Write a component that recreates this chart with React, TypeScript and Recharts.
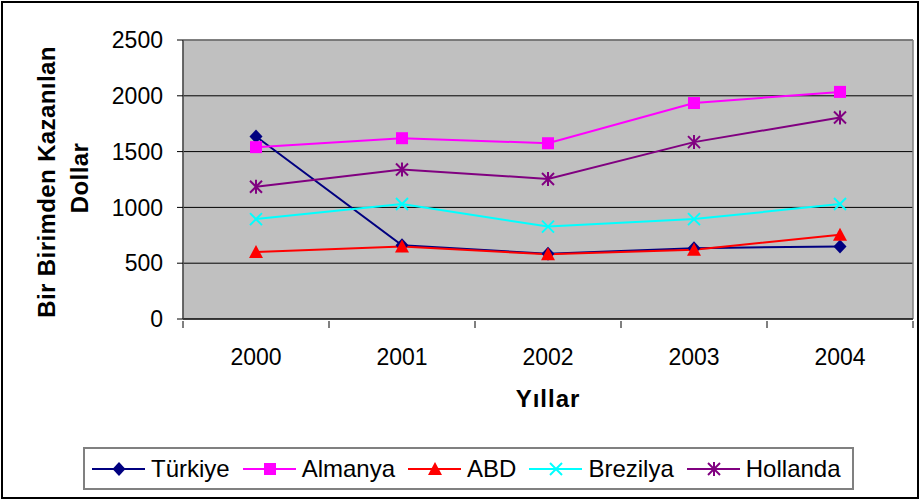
import { LineChart, Line, XAxis, YAxis, CartesianGrid } from "recharts";

const years = ["2000", "2001", "2002", "2003", "2004"];
const turkiye = [1635, 660, 585, 635, 650];
const almanya = [1540, 1620, 1575, 1935, 2035];
const abd = [600, 650, 580, 620, 755];
const brezilya = [895, 1030, 828, 895, 1030];
const hollanda = [1185, 1340, 1255, 1585, 1805];
const yTicks = [0, 500, 1000, 1500, 2000, 2500];

const data = years.map((year, i) => ({
  year,
  turkiye: turkiye[i],
  almanya: almanya[i],
  abd: abd[i],
  brezilya: brezilya[i],
  hollanda: hollanda[i],
}));

const font = "'Liberation Sans', Arial, sans-serif";

// marker shapes, Excel style
function Marker({ shape, cx, cy, color }: { shape: string; cx: number; cy: number; color: string }) {
  if (cx == null || cy == null) return null;
  if (shape === "diamond")
    return <polygon points={`${cx},${cy - 7} ${cx + 6.5},${cy} ${cx},${cy + 7} ${cx - 6.5},${cy}`} fill={color} />;
  if (shape === "square") return <rect x={cx - 6} y={cy - 6} width={12} height={12} fill={color} />;
  if (shape === "triangle")
    return <polygon points={`${cx},${cy - 7} ${cx + 7},${cy + 6} ${cx - 7},${cy + 6}`} fill={color} />;
  if (shape === "cross")
    return (
      <g stroke={color} strokeWidth={2}>
        <line x1={cx - 6} y1={cy - 6} x2={cx + 6} y2={cy + 6} />
        <line x1={cx - 6} y1={cy + 6} x2={cx + 6} y2={cy - 6} />
      </g>
    );
  return (
    <g stroke={color} strokeWidth={2}>
      <line x1={cx - 6} y1={cy - 6} x2={cx + 6} y2={cy + 6} />
      <line x1={cx - 6} y1={cy + 6} x2={cx + 6} y2={cy - 6} />
      <line x1={cx} y1={cy - 7} x2={cx} y2={cy + 7} />
    </g>
  );
}

const series = [
  { key: "turkiye", name: "Türkiye", color: "#000080", shape: "diamond" },
  { key: "almanya", name: "Almanya", color: "#FF00FF", shape: "square" },
  { key: "abd", name: "ABD", color: "#FF0000", shape: "triangle" },
  { key: "brezilya", name: "Brezilya", color: "#00FFFF", shape: "cross" },
  { key: "hollanda", name: "Hollanda", color: "#800080", shape: "star" },
];

const HALF_BAND = 73;

function YearTick(props: any) {
  const { x, y, payload, index } = props;
  return (
    <g>
      <line x1={x - HALF_BAND} y1={y} x2={x - HALF_BAND} y2={y + 7} stroke="#000" />
      {index === years.length - 1 && <line x1={x + HALF_BAND} y1={y} x2={x + HALF_BAND} y2={y + 7} stroke="#000" />}
      <text x={x} y={y + 44} textAnchor="middle" fontSize={23} fontFamily={font} fill="#000">
        {payload.value}
      </text>
    </g>
  );
}

function YTitle() {
  return (
    <g fontFamily={font} fontSize={24} fontWeight="bold" fill="#000">
      <text x={55} y={182} textAnchor="middle" transform="rotate(-90 55 182)" letterSpacing={0.4}>
        Bir Birimden Kazanılan
      </text>
      <text x={88} y={178} textAnchor="middle" transform="rotate(-90 88 178)" letterSpacing={0.4}>
        Dollar
      </text>
    </g>
  );
}

function XTitle() {
  return (
    <text x={548} y={407} textAnchor="middle" fontFamily={font} fontSize={24} fontWeight="bold" fill="#000" letterSpacing={1}>
      Yıllar
    </text>
  );
}

export default function App() {
  return (
    <div style={{ position: "absolute", left: 0, top: 0, width: 921, height: 503, background: "#fff" }}>
      <LineChart width={921} height={503} data={data} margin={{ top: 40, right: 8, left: 0, bottom: 134 }}>
        <CartesianGrid fill="#C0C0C0" fillOpacity={1} vertical={false} stroke="#000" strokeOpacity={1} />
        {/* grey frame around the plot area */}
        <CartesianGrid
          fill="none"
          stroke="#808080"
          strokeWidth={1.5}
          horizontalCoordinatesGenerator={({ offset }: any) => [offset.top]}
          verticalCoordinatesGenerator={({ offset }: any) => [offset.left, offset.left + offset.width]}
        />
        <XAxis
          dataKey="year"
          padding={{ left: HALF_BAND, right: HALF_BAND }}
          tickLine={false}
          tickSize={0}
          tick={<YearTick />}
          axisLine={{ stroke: "#000" }}
          height={50}
          interval={0}
          label={<XTitle />}
        />
        <YAxis
          width={183}
          domain={[0, 2500]}
          ticks={yTicks}
          tickSize={6}
          tickMargin={14}
          tickLine={{ stroke: "#000" }}
          axisLine={{ stroke: "#333" }}
          tick={{ fontSize: 23, fontFamily: font, fill: "#000" }}
          label={<YTitle />}
        />
        {series.map((s) => (
          <Line
            key={s.key}
            dataKey={s.key}
            name={s.name}
            type="linear"
            stroke={s.color}
            strokeWidth={2}
            isAnimationActive={false}
            activeDot={false}
            dot={(p: any) => <Marker key={`${s.key}-${p.index}`} shape={s.shape} cx={p.cx} cy={p.cy} color={s.color} />}
          />
        ))}
      </LineChart>
      <div
        style={{
          position: "absolute",
          left: 83,
          top: 447,
          width: 771,
          height: 43,
          boxSizing: "border-box",
          border: "2px solid #808080",
          display: "flex",
          alignItems: "center",
          paddingLeft: 7,
          fontFamily: font,
          fontSize: 24,
          gap: 13,
        }}
      >
        {series.map((s) => (
          <div key={s.key} style={{ display: "flex", alignItems: "center" }}>
            <svg width={53} height={20}>
              <line x1={0} y1={10} x2={53} y2={10} stroke={s.color} strokeWidth={2} />
              <Marker shape={s.shape} cx={27} cy={10} color={s.color} />
            </svg>
            <span style={{ marginLeft: 6, color: "#000", lineHeight: "24px" }}>{s.name}</span>
          </div>
        ))}
      </div>
      <div
        style={{
          position: "absolute",
          left: 1,
          top: 1,
          width: 918,
          height: 498,
          boxSizing: "border-box",
          border: "2px solid #000",
          pointerEvents: "none",
        }}
      />
    </div>
  );
}
